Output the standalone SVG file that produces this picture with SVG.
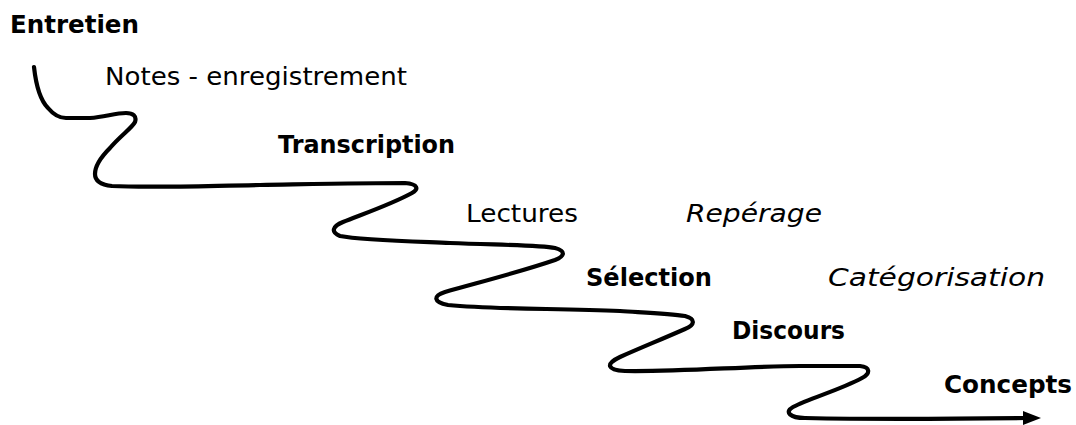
<svg xmlns="http://www.w3.org/2000/svg" width="1076" height="425" viewBox="0 0 1076 425">
<style>
.t{font-family:"DejaVu Sans","Liberation Sans",sans-serif;font-size:24px;fill:#000}
.b{font-weight:bold}
.i{font-style:italic}
.line{fill:none;stroke:#000;stroke-width:4.2;stroke-linecap:round;stroke-linejoin:round}
</style>
<rect width="1076" height="425" fill="#fff"/>
<g id="connectors">
<path class="line" d="M34,67 C36,85 40,100 48,108 C53,114 58,118 66,118 L90,118 C105,117 115,113 126,113 C133,113 137,116 135,122 C132,128 120,136 110,148 C100,158 95,166 95,174 C95,182 102,185 112,186 C150,188 200,186 260,185 C320,184 370,183 405,183 C418,184 419,189 412,193 C390,205 360,215 343,222 C333,226 330,232 340,236 C360,240 400,241 450,243 C500,245 540,245 555,248 C566,251 565,256 555,260 C520,272 480,282 445,292 C433,296 433,302 448,305 C500,310 560,308 620,311 C650,313 670,314 685,316 C696,319 695,325 685,329 C660,340 640,348 620,357 C605,364 607,370 625,371 C680,372 750,366 800,366 L860,366 C870,367 871,373 862,378 C840,390 810,398 793,407 C784,412 790,418 805,418 C850,419 950,419 1026,418"/>
<polygon points="1041,418 1023,411 1023,425" fill="#000"/>
</g>
<g id="entretien"><text class="t b" x="10" y="33" textLength="129" lengthAdjust="spacingAndGlyphs">Entretien</text></g>
<g id="notes"><text class="t" x="105" y="85" textLength="302" lengthAdjust="spacingAndGlyphs">Notes - enregistrement</text></g>
<g id="transcription"><text class="t b" x="278" y="153" textLength="177" lengthAdjust="spacingAndGlyphs">Transcription</text></g>
<g id="lectures"><text class="t" x="466" y="222" textLength="112" lengthAdjust="spacingAndGlyphs">Lectures</text></g>
<g id="reperage"><text class="t i" x="686" y="222" textLength="136" lengthAdjust="spacingAndGlyphs">Repérage</text></g>
<g id="selection"><text class="t b" x="586" y="286" textLength="126" lengthAdjust="spacingAndGlyphs">Sélection</text></g>
<g id="categorisation"><text class="t i" x="828" y="286" textLength="217" lengthAdjust="spacingAndGlyphs">Catégorisation</text></g>
<g id="discours"><text class="t b" x="732" y="339" textLength="113" lengthAdjust="spacingAndGlyphs">Discours</text></g>
<g id="concepts"><text class="t b" x="944" y="393" textLength="128" lengthAdjust="spacingAndGlyphs">Concepts</text></g>
</svg>
